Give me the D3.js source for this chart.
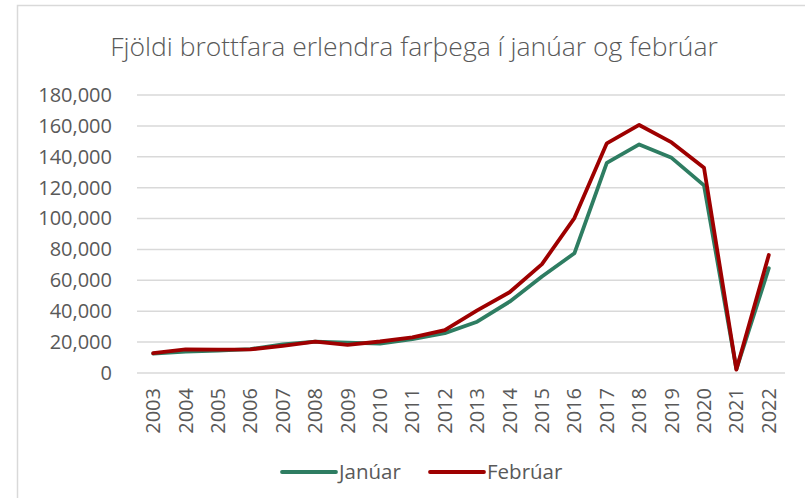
<!DOCTYPE html>
<html>
<head>
<meta charset="utf-8">
<script src="https://cdn.jsdelivr.net/npm/d3@7"></script>
<style>
    body { margin: 0; background: #fff; }
    text { font-family: "Open Sans", sans-serif; fill: #595959; }
</style>
</head>
<body>
<div id="chart"></div>
<script>
var years = ["2003","2004","2005","2006","2007","2008","2009","2010","2011","2012",
    "2013","2014","2015","2016","2017","2018","2019","2020","2021","2022"];
var januar = [12500, 13800, 14500, 15500, 18500, 20300, 19700, 19000, 22000, 25800,
    33200, 46200, 62500, 77500, 136000, 148000, 139300, 121500, 2500, 67800];
var februar = [12800, 15300, 15100, 15300, 17600, 20300, 18200, 20400, 23100, 27800,
    40600, 52300, 70500, 100300, 148700, 160600, 149300, 132900, 2200, 76400];
var yTicks = [0, 20000, 40000, 60000, 80000, 100000, 120000, 140000, 160000, 180000];
var seriesNames = ["Janúar", "Febrúar"];
var colors = ["#2e7d62", "#9e0000"];

var width = 805;
var height = 498;
var padding = { top: 95, right: 20, bottom: 125, left: 137 };

var svg = d3.select("#chart")
    .append("svg")
    .attr("width", width)
    .attr("height", height);

// chart frame
svg.append("rect")
    .attr("x", 17.5).attr("y", 5.5)
    .attr("width", 900).attr("height", 600)
    .attr("fill", "none")
    .attr("stroke", "#d9d9d9")
    .attr("stroke-width", 1.5);

var xScale = d3.scaleBand()
    .domain(years)
    .range([padding.left, 785]);

var yScale = d3.scaleLinear()
    .domain([0, 180000])
    .range([373, padding.top]);

var formatNum = d3.format(",");

// gridlines
svg.append("g")
    .selectAll("line")
    .data(yTicks)
    .enter()
    .append("line")
    .attr("x1", padding.left).attr("x2", 785)
    .attr("y1", function(d) { return yScale(d); })
    .attr("y2", function(d) { return yScale(d); })
    .attr("stroke", "#d9d9d9")
    .attr("stroke-width", 1.5);

// y axis labels
var yAxis = d3.axisLeft(yScale)
    .tickValues(yTicks)
    .tickFormat(formatNum)
    .tickSize(0)
    .tickPadding(0);
var yG = svg.append("g")
    .attr("transform", "translate(112,0)")
    .call(yAxis);
yG.select(".domain").remove();
yG.selectAll("text")
    .style("font-family", "'Open Sans', sans-serif")
    .style("font-size", "20px")
    .attr("fill", "#595959");

// x axis labels (rotated)
var xAxis = d3.axisBottom(xScale).tickSize(0).tickPadding(0);
var xG = svg.append("g")
    .attr("transform", "translate(0,388)")
    .call(xAxis);
xG.select(".domain").remove();
xG.selectAll("text")
    .style("font-family", "'Open Sans', sans-serif")
    .style("font-size", "20px")
    .attr("fill", "#595959")
    .attr("transform", "rotate(-90)")
    .attr("x", 0)
    .attr("y", 0)
    .attr("dy", "0.35em")
    .style("text-anchor", "end");

var line = d3.line()
    .x(function(d, i) { return xScale(years[i]) + xScale.bandwidth() / 2; })
    .y(function(d) { return yScale(d); });

[januar, februar].forEach(function(series, k) {
    svg.append("path")
        .attr("d", line(series))
        .attr("fill", "none")
        .attr("stroke", colors[k])
        .attr("stroke-width", 3.8)
        .attr("stroke-linejoin", "round")
        .attr("stroke-linecap", "round");
});

// title
svg.append("text")
    .attr("x", 414)
    .attr("y", 56)
    .style("text-anchor", "middle")
    .style("font-size", "26.5px")
    .style("font-weight", 300)
    .text("Fjöldi brottfara erlendra farþega í janúar og febrúar");

// legend
var legendX = [282, 430];
seriesNames.forEach(function(name, k) {
    svg.append("line")
        .attr("x1", legendX[k]).attr("x2", legendX[k] + 54)
        .attr("y1", 472).attr("y2", 472)
        .attr("stroke", colors[k])
        .attr("stroke-width", 3.8)
        .attr("stroke-linecap", "round");
    svg.append("text")
        .attr("x", legendX[k] + 57)
        .attr("y", 472)
        .attr("dy", "0.35em")
        .style("font-size", "20.5px")
        .text(name);
});
</script>
</body>
</html>
